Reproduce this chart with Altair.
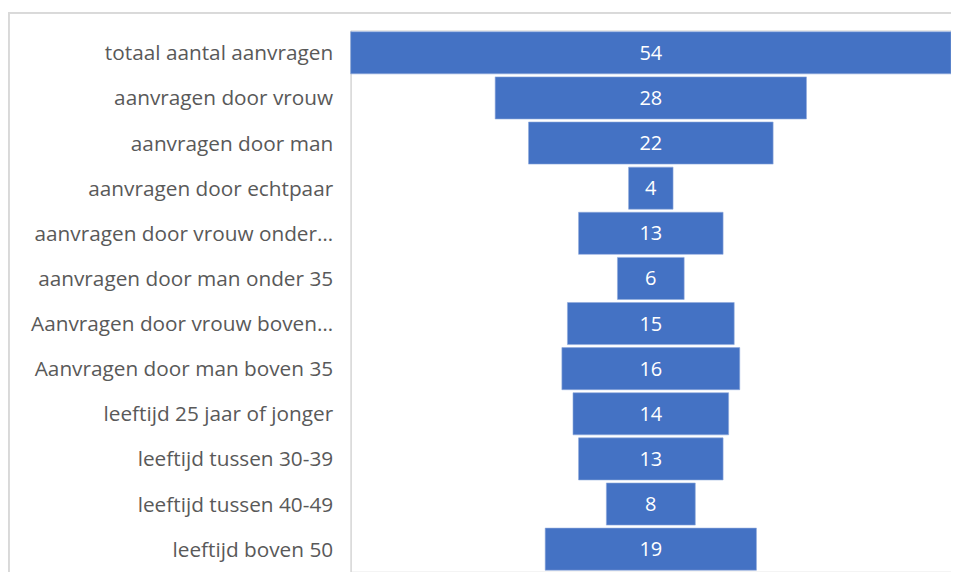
import altair as alt
import pandas as pd

categories = [
    "totaal aantal aanvragen",
    "aanvragen door vrouw",
    "aanvragen door man",
    "aanvragen door echtpaar",
    "aanvragen door vrouw onder…",
    "aanvragen door man onder 35",
    "Aanvragen door vrouw boven…",
    "Aanvragen door man boven 35",
    "leeftijd 25 jaar of jonger",
    "leeftijd tussen 30-39",
    "leeftijd tussen 40-49",
    "leeftijd boven 50",
]
values = [54, 28, 22, 4, 13, 6, 15, 16, 14, 13, 8, 19]

df = pd.DataFrame({"cat": categories, "v": values})

FONT = "Open Sans"
BLUE = "#4472C4"
GRID = "#d9d9d9"

y_enc = alt.Y(
    "cat:N",
    sort=categories,
    scale=alt.Scale(paddingInner=0.067, paddingOuter=0.033),
    axis=alt.Axis(
        title=None,
        ticks=False,
        labelFont=FONT,
        labelFontSize=20.8,
        labelColor="#595959",
        labelPadding=18,
        labelLimit=400,
        labelOffset=1.5,
        domainColor=GRID,
        domainWidth=1.5,
    ),
)

x_scale = alt.Scale(domain=[-27, 27], nice=False, zero=False)

base = alt.Chart(df).transform_calculate(
    lo="-datum.v / 2", hi="datum.v / 2", mid="0"
)

bars = base.mark_bar(color=BLUE, stroke="#8faadc", strokeWidth=0.6).encode(
    x=alt.X("lo:Q", scale=x_scale, axis=None),
    x2="hi:Q",
    y=y_enc,
)

labels = base.mark_text(
    color="white", font=FONT, fontSize=20, align="center", baseline="middle", dy=1
).encode(
    x=alt.X("mid:Q", scale=x_scale),
    y=alt.Y("cat:N", sort=categories),
    text="v:Q",
)

frame_left = alt.Chart(df).mark_rule(color=GRID, strokeWidth=1.5).encode(
    x=alt.value(-342.5), y=alt.value(-17.5), y2=alt.value(570)
)
frame_top = alt.Chart(df).mark_rule(color=GRID, strokeWidth=1.5).encode(
    x=alt.value(-342.5), x2=alt.value(620), y=alt.value(-17.5)
)

chart = (
    alt.layer(frame_left, frame_top, bars, labels)
    .properties(
        width=601,
        height=542,
        padding={"left": 343, "top": 22, "right": 0, "bottom": 0},
        autosize=alt.AutoSizeParams(type="none"),
    )
    .configure_view(stroke=None)
    .configure(background="white")
)

chart.save("out.html", embed_options={"renderer": "svg", "actions": False})
